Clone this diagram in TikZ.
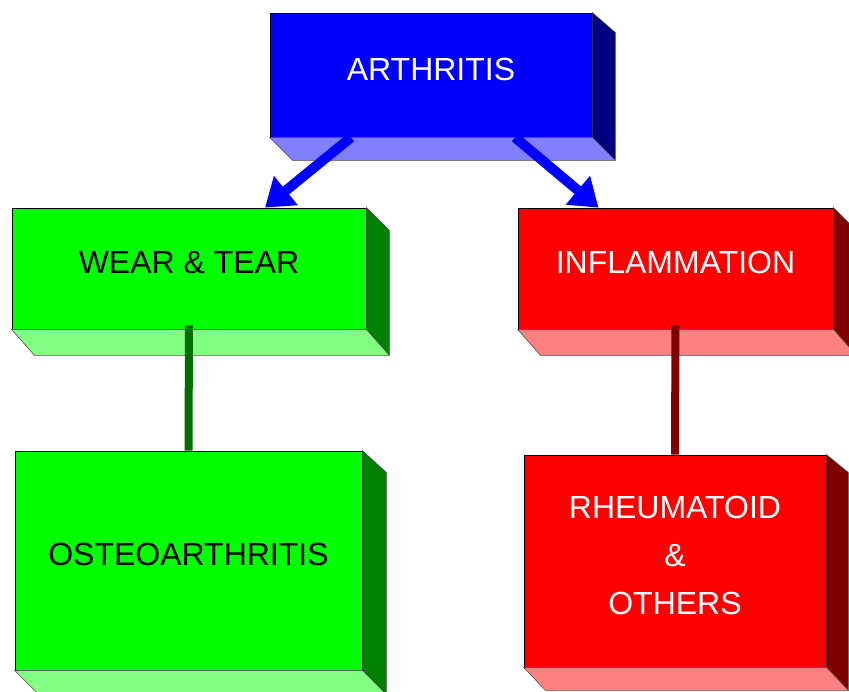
\documentclass[tikz,border=0pt]{standalone}
\usepackage{fontspec}
\setmainfont{Liberation Sans}
\usetikzlibrary{arrows.meta}

\begin{document}
\begin{tikzpicture}[x=1pt,y=-1pt,
	boite/.style={draw=black, line width=0.8pt, inner sep=0pt, align=center,
		font=\fontsize{32}{48}\selectfont, text depth=12pt},
	fleche/.style={draw=blue, line width=10pt, -{Triangle[width=36pt,length=27pt]}},
	face/.style={draw=black!70, line width=0.6pt}]
	\useasboundingbox (0,0) rectangle (849,691);
	%les boites
	\node[boite, fill=blue, text=white, minimum width=322pt, minimum height=124pt] (arth) at (431,75) {ARTHRITIS};
	\node[boite, fill=green, text=black, minimum width=354pt, minimum height=121pt] (wear) at (189,268.5) {WEAR \& TEAR};
	\node[boite, fill=red, text=white, minimum width=315pt, minimum height=121pt] (inflam) at (675.5,268.5) {INFLAMMATION};
	\node[boite, fill=green, text=black, minimum width=347pt, minimum height=219pt] (osteo) at (188.5,560.5) {OSTEOARTHRITIS};
	\node[boite, fill=red, text=white, minimum width=302pt, minimum height=212pt] (rheum) at (675,561) {RHEUMATOID\\\&\\OTHERS};
	%fin
	%faces en relief (cote et dessous)
	\filldraw[face, fill=blue!50!black] (arth.north east) -- ([xshift=23pt,yshift=-20pt]arth.north east) -- ([xshift=23pt,yshift=-23pt]arth.south east) -- (arth.south east) -- cycle;
	\filldraw[face, fill=blue!50] (arth.south west) -- (arth.south east) -- ([xshift=23pt,yshift=-23pt]arth.south east) -- ([xshift=23pt,yshift=-23pt]arth.south west) -- cycle;
	\filldraw[face, fill=green!50!black] (wear.north east) -- ([xshift=23pt,yshift=-23pt]wear.north east) -- ([xshift=23pt,yshift=-26pt]wear.south east) -- (wear.south east) -- cycle;
	\filldraw[face, fill=green!50] (wear.south west) -- (wear.south east) -- ([xshift=23pt,yshift=-26pt]wear.south east) -- ([xshift=23pt,yshift=-26pt]wear.south west) -- cycle;
	\filldraw[face, fill=red!50!black] (inflam.north east) -- ([xshift=23pt,yshift=-23pt]inflam.north east) -- ([xshift=23pt,yshift=-26pt]inflam.south east) -- (inflam.south east) -- cycle;
	\filldraw[face, fill=red!50] (inflam.south west) -- (inflam.south east) -- ([xshift=23pt,yshift=-26pt]inflam.south east) -- ([xshift=23pt,yshift=-26pt]inflam.south west) -- cycle;
	\filldraw[face, fill=green!50!black] (osteo.north east) -- ([xshift=24pt,yshift=-22pt]osteo.north east) -- ([xshift=24pt,yshift=-24pt]osteo.south east) -- (osteo.south east) -- cycle;
	\filldraw[face, fill=green!50] (osteo.south west) -- (osteo.south east) -- ([xshift=24pt,yshift=-24pt]osteo.south east) -- ([xshift=24pt,yshift=-24pt]osteo.south west) -- cycle;
	\filldraw[face, fill=red!50!black] (rheum.north east) -- ([xshift=22pt,yshift=-18pt]rheum.north east) -- ([xshift=22pt,yshift=-23pt]rheum.south east) -- (rheum.south east) -- cycle;
	\filldraw[face, fill=red!50] (rheum.south west) -- (rheum.south east) -- ([xshift=22pt,yshift=-23pt]rheum.south east) -- ([xshift=22pt,yshift=-23pt]rheum.south west) -- cycle;
	%fin
	%fleches et traits
	\draw[fleche] ([xshift=-80pt]arth.south) -- ([xshift=76pt]wear.north);
	\draw[fleche] ([xshift=84pt]arth.south) -- ([xshift=-77pt]inflam.north);
	\draw[line width=8pt, green!43!black] ([yshift=4pt]wear.south) -- (osteo.north);
	\draw[line width=8pt, red!50!black] ([yshift=4pt]inflam.south) -- (rheum.north);
\end{tikzpicture}
\end{document}
